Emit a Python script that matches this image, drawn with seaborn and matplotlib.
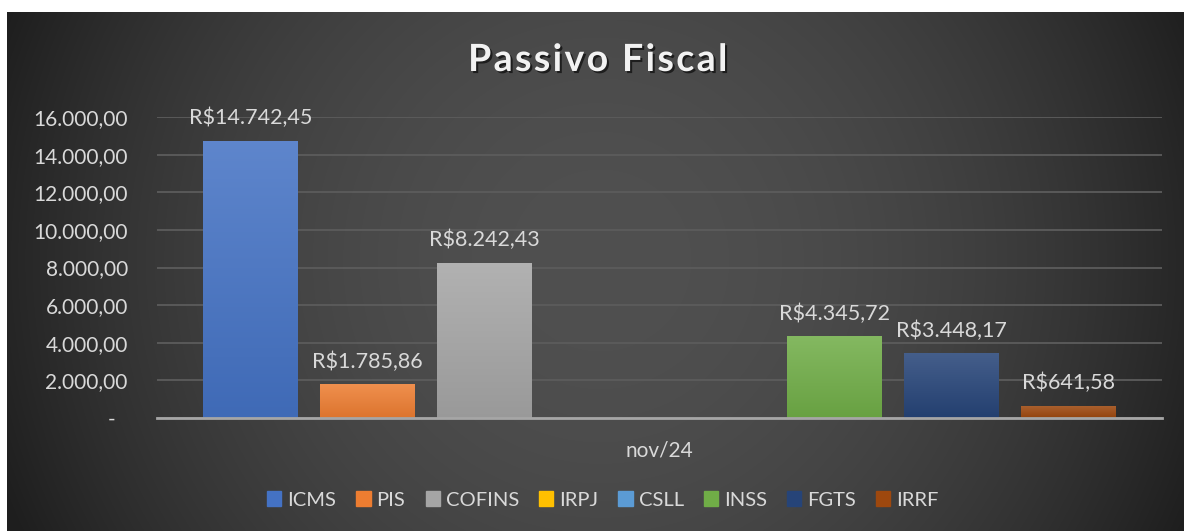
import numpy as np
import pandas as pd
import matplotlib
matplotlib.use("Agg")
import matplotlib.pyplot as plt
import matplotlib.patches as mpatches
import matplotlib.patheffects as pe
from matplotlib.colors import to_rgb
from matplotlib.ticker import FuncFormatter
import seaborn as sns

# dados do grafico
mes = "nov/24"
tributos = ["ICMS", "PIS", "COFINS", "IRPJ", "CSLL", "INSS", "FGTS", "IRRF"]
valores = [14742.45, 1785.86, 8242.43, 0.0, 0.0, 4345.72, 3448.17, 641.58]
cores = ["#4472C4", "#ED7D31", "#A5A5A5", "#FFC000", "#5B9BD5", "#70AD47", "#264478", "#9E480E"]
y_ticks = [0, 2000, 4000, 6000, 8000, 10000, 12000, 14000, 16000]
titulo = "Passivo Fiscal"


def fmt_br(v):
    s = f"{v:,.2f}"
    return s.replace(",", "X").replace(".", ",").replace("X", ".")


df = pd.DataFrame({"mes": mes, "tributo": tributos, "valor": valores})

sns.set_theme(style="dark")
plt.rcParams["font.family"] = ["Lato", "DejaVu Sans"]

W, H = 1184, 531
fig = plt.figure(figsize=(W / 100, H / 100), dpi=100)
fig.patch.set_facecolor("white")

# fundo escuro com gradiente radial
bw, bh = W - 7, H - 12
bg = fig.add_axes([7 / W, 0, bw / W, bh / H])
xx, yy = np.meshgrid(np.arange(bw), np.arange(bh))
r = np.clip(np.hypot(xx - 593, yy - 248) / 643, 0, 1) ** 2
c0, c1 = 0x50 / 255, 0x1E / 255
img = c0 + (c1 - c0) * r
bg.imshow(np.dstack([img] * 3), aspect="auto")
bg.axis("off")

# area do grafico
ax = fig.add_axes([157 / W, 113 / H, 1005 / W, 301 / H])
ax.patch.set_visible(False)
sns.barplot(data=df, x="mes", y="valor", hue="tributo", palette=cores,
            saturation=1, width=0.93, gap=0.19, ax=ax, legend=False, zorder=3,
            linewidth=0, edgecolor="none")

# gradiente vertical nas barras
for cont, cor in zip(ax.containers, cores):
    for bar in cont:
        h = bar.get_height()
        if h <= 0:
            continue
        x0, w = bar.get_x(), bar.get_width()
        base = np.array(to_rgb(cor))
        topo = base + (1 - base) * 0.14
        fundo = base * 0.93
        grad = np.linspace(topo, fundo, 100)[:, None, :]
        im = ax.imshow(grad, extent=[x0, x0 + w, 0, h], aspect="auto", zorder=4)
        im.set_clip_path(bar)

# rotulos de dados
for cont, v in zip(ax.containers, valores):
    lbl = ["R$" + fmt_br(v)] if v > 0 else [""]
    ax.bar_label(cont, labels=lbl, padding=9, color="#d9d9d9", fontsize=15.5, zorder=5)

ax.set_xlim(-0.5, 0.5)
ax.set_ylim(0, 16000)
ax.set_yticks(y_ticks)
# formato contabil: zero aparece como traco
ax.yaxis.set_major_formatter(FuncFormatter(lambda v, p: "-\u2007" if v == 0 else fmt_br(v)))
ax.yaxis.grid(True, color="#5c5c5c", lw=1.3)
ax.xaxis.grid(False)
ax.set_axisbelow(True)
for s in ["left", "right", "top"]:
    ax.spines[s].set_visible(False)
ax.spines["bottom"].set_color("#a6a6a6")
ax.spines["bottom"].set_linewidth(2)
ax.spines["bottom"].set_zorder(6)
ax.tick_params(axis="y", length=0, pad=21, labelcolor="#d9d9d9", labelsize=15)
ax.tick_params(axis="x", length=0, pad=16, labelcolor="#d9d9d9", labelsize=15)
ax.set_xlabel("")
ax.set_ylabel("")

# titulo com espacamento entre letras
titulo_esp = "\u200a".join(titulo)
fig.text(598 / W, 1 - 60 / H, titulo_esp, ha="center", va="center",
         fontsize=27, fontweight="bold", color="#f2f2f2",
         path_effects=[pe.withSimplePatchShadow(offset=(1.5, -1.5), shadow_rgbFace="black", alpha=0.6)])

# legenda
handles = [mpatches.Patch(color=c, label=t) for c, t in zip(cores, tributos)]
fig.legend(handles=handles, loc="center", bbox_to_anchor=(603 / W, 1 - 500 / H), ncol=8,
           frameon=False, handlelength=0.7, handleheight=0.7, handletextpad=0.3,
           columnspacing=1.0, fontsize=14.5, labelcolor="#d9d9d9")

fig.savefig("out.png", dpi=100, facecolor=fig.get_facecolor())
